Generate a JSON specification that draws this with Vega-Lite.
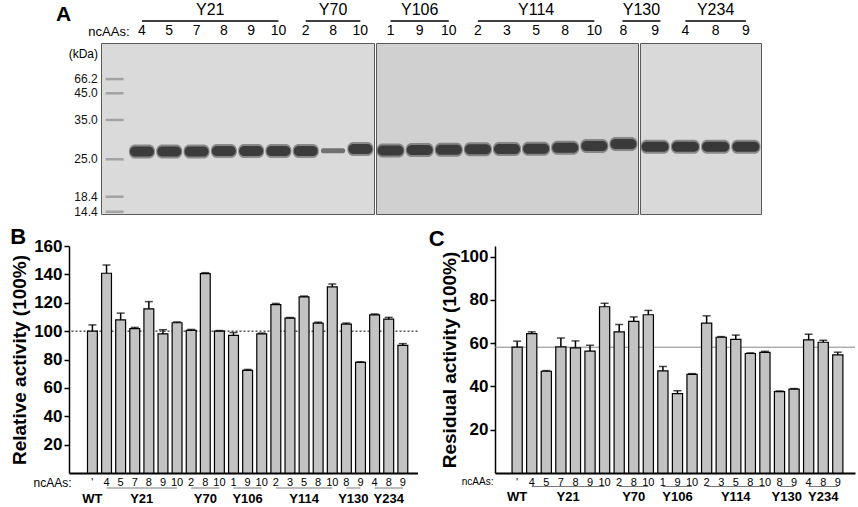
{
  "$schema": "https://vega.github.io/schema/vega-lite/v6.json",
  "padding": {"left": 5, "top": 1, "right": 1, "bottom": 0},
  "config": {
    "font": "Liberation Sans",
    "view": {"stroke": null},
    "axis": {"grid": false, "labelColor": "#000", "titleColor": "#000", "domainColor": "#000", "tickColor": "#000"}
  },
  "datasets": {
    "lanes": [
      {"id": "WT", "group": "WT", "gel": "none", "rf": null, "intensity": "none", "rel": 100, "relTop": 104.4, "res": 58.1, "resTop": 60.9},
      {"id": "Y21-4", "group": "Y21", "gel": "L", "rf": 0.634, "intensity": "high", "rel": 140.8, "relTop": 146.6, "res": 64.4, "resTop": 65.2},
      {"id": "Y21-5", "group": "Y21", "gel": "L", "rf": 0.634, "intensity": "high", "rel": 108, "relTop": 112.7, "res": 47, "resTop": 47.3},
      {"id": "Y21-7", "group": "Y21", "gel": "L", "rf": 0.634, "intensity": "high", "rel": 101.8, "relTop": 102.6, "res": 58.3, "resTop": 62.3},
      {"id": "Y21-8", "group": "Y21", "gel": "L", "rf": 0.632, "intensity": "high", "rel": 115.7, "relTop": 120.8, "res": 57.8, "resTop": 61},
      {"id": "Y21-9", "group": "Y21", "gel": "L", "rf": 0.632, "intensity": "high", "rel": 98, "relTop": 101, "res": 56.3, "resTop": 59},
      {"id": "Y21-10", "group": "Y21", "gel": "L", "rf": 0.632, "intensity": "high", "rel": 105.9, "relTop": 106.5, "res": 76.8, "resTop": 78.4},
      {"id": "Y70-2", "group": "Y70", "gel": "L", "rf": 0.632, "intensity": "high", "rel": 100.5, "relTop": 101.2, "res": 65.2, "resTop": 68.6},
      {"id": "Y70-8", "group": "Y70", "gel": "L", "rf": 0.63, "intensity": "low", "rel": 140.5, "relTop": 141.2, "res": 70, "resTop": 72.1},
      {"id": "Y70-10", "group": "Y70", "gel": "L", "rf": 0.62, "intensity": "high", "rel": 100, "relTop": 100.4, "res": 73.1, "resTop": 75.1},
      {"id": "Y106-1", "group": "Y106", "gel": "M", "rf": 0.628, "intensity": "high", "rel": 97, "relTop": 99, "res": 47.2, "resTop": 49.2},
      {"id": "Y106-9", "group": "Y106", "gel": "M", "rf": 0.626, "intensity": "high", "rel": 72.3, "relTop": 73, "res": 36.7, "resTop": 38},
      {"id": "Y106-10", "group": "Y106", "gel": "M", "rf": 0.624, "intensity": "high", "rel": 98, "relTop": 98.6, "res": 45.6, "resTop": 45.9},
      {"id": "Y114-2", "group": "Y114", "gel": "M", "rf": 0.622, "intensity": "high", "rel": 118.7, "relTop": 119.5, "res": 69.2, "resTop": 72.6},
      {"id": "Y114-3", "group": "Y114", "gel": "M", "rf": 0.62, "intensity": "high", "rel": 109.1, "relTop": 109.6, "res": 62.7, "resTop": 63},
      {"id": "Y114-5", "group": "Y114", "gel": "M", "rf": 0.618, "intensity": "high", "rel": 124.2, "relTop": 124.7, "res": 61.7, "resTop": 63.7},
      {"id": "Y114-8", "group": "Y114", "gel": "M", "rf": 0.612, "intensity": "high", "rel": 105.6, "relTop": 106.3, "res": 55.2, "resTop": 55.5},
      {"id": "Y114-10", "group": "Y114", "gel": "M", "rf": 0.603, "intensity": "high", "rel": 131.2, "relTop": 133.2, "res": 55.7, "resTop": 56.2},
      {"id": "Y130-8", "group": "Y130", "gel": "M", "rf": 0.59, "intensity": "high", "rel": 104.9, "relTop": 105.7, "res": 37.6, "resTop": 37.9},
      {"id": "Y130-9", "group": "Y130", "gel": "R", "rf": 0.606, "intensity": "high", "rel": 78, "relTop": 78.4, "res": 38.7, "resTop": 39},
      {"id": "Y234-4", "group": "Y234", "gel": "R", "rf": 0.606, "intensity": "high", "rel": 111.5, "relTop": 112.1, "res": 61.5, "resTop": 64.1},
      {"id": "Y234-8", "group": "Y234", "gel": "R", "rf": 0.606, "intensity": "high", "rel": 108.5, "relTop": 109.7, "res": 60.4, "resTop": 61.3},
      {"id": "Y234-9", "group": "Y234", "gel": "R", "rf": 0.606, "intensity": "high", "rel": 90, "relTop": 91.2, "res": 54.6, "resTop": 55.8}
    ],
    "markers": [
      {"id": "M", "kda": "66.2", "rf": 0.211},
      {"id": "M", "kda": "45.0", "rf": 0.294},
      {"id": "M", "kda": "35.0", "rf": 0.45},
      {"id": "M", "kda": "25.0", "rf": 0.68},
      {"id": "M", "kda": "18.4", "rf": 0.899},
      {"id": "M", "kda": "14.4", "rf": 0.987}
    ],
    "groups": [
      {"group": "WT", "first": "WT", "last": "WT", "anchor": "WT", "even": false, "gel": "none"},
      {"group": "Y21", "first": "Y21-4", "last": "Y21-10", "anchor": "Y21-7", "even": true, "gel": "L"},
      {"group": "Y70", "first": "Y70-2", "last": "Y70-10", "anchor": "Y70-8", "even": false, "gel": "L"},
      {"group": "Y106", "first": "Y106-1", "last": "Y106-10", "anchor": "Y106-9", "even": false, "gel": "M"},
      {"group": "Y114", "first": "Y114-2", "last": "Y114-10", "anchor": "Y114-5", "even": false, "gel": "M"},
      {"group": "Y130", "first": "Y130-8", "last": "Y130-9", "anchor": "Y130-8", "even": true, "gel": "M"},
      {"group": "Y234", "first": "Y234-4", "last": "Y234-9", "anchor": "Y234-8", "even": false, "gel": "R"}
    ]
  },
  "spacing": 7,
  "vconcat": [
    {
      "spacing": 2,
      "bounds": "flush",
      "hconcat": [
        {
          "width": 29.5,
          "height": 171,
          "data": {"values": []},
          "mark": "point"
        },
        {
          "width": 273,
          "height": 171,
          "view": {"fill": "#dadada", "stroke": "#5a5a5a", "strokeWidth": 1},
          "title": {"text": "A", "anchor": "start", "frame": "group", "dx": -45, "offset": -23, "fontSize": 21, "fontWeight": "bold", "color": "#000"},
          "resolve": {"axis": {"x": "independent", "y": "independent"}},
          "encoding": {
            "x": {"field": "id", "type": "nominal", "axis": null,
              "scale": {"domain": ["M", "Y21-4", "Y21-5", "Y21-7", "Y21-8", "Y21-9", "Y21-10", "Y70-2", "Y70-8", "Y70-10"], "paddingInner": 0, "paddingOuter": 0}}
          },
          "layer": [
            {
              "data": {"name": "markers"},
              "mark": {"type": "tick", "size": 18, "thickness": 2.5, "color": "#8c8c8c"},
              "encoding": {
                "x": {"field": "id", "type": "nominal",
                  "axis": {"orient": "top", "title": "ncAAs:", "titleX": 28, "titleY": -12, "titleAlign": "right", "titleBaseline": "middle", "titleFontSize": 13, "titleFontWeight": "normal",
                    "labelExpr": "datum.value == 'M' ? '' : slice(datum.value, indexof(datum.value, '-') + 1)",
                    "labelAngle": 0, "labelFontSize": 14, "labelPadding": 6, "ticks": false, "tickSize": 0, "domain": false, "labelOverlap": false}},
                "y": {"field": "rf", "type": "quantitative", "scale": {"domain": [0, 1], "reverse": true},
                  "axis": {"title": "(kDa)", "titleAngle": 0, "titleX": -3.5, "titleY": 10.3, "titleAlign": "right", "titleBaseline": "middle", "titleFontSize": 12, "titleFontWeight": "normal",
                    "labels": false, "ticks": false, "domain": false, "minExtent": 95}}
              }
            },
            {
              "data": {"name": "markers"},
              "mark": {"type": "text", "align": "right", "baseline": "middle", "dx": -17, "fontSize": 12, "color": "#111"},
              "encoding": {"y": {"field": "rf", "type": "quantitative", "axis": null}, "text": {"field": "kda", "type": "nominal"}}
            },
            {
              "data": {"name": "lanes"},
              "transform": [{"filter": "datum.gel == 'L' && datum.intensity == 'high'"}],
              "mark": {"type": "tick", "size": 26, "thickness": 14, "cornerRadius": 6, "color": "#555", "opacity": 0.6},
              "encoding": {"y": {"field": "rf", "type": "quantitative", "axis": null}}
            },
            {
              "data": {"name": "lanes"},
              "transform": [{"filter": "datum.gel == 'L' && datum.intensity == 'high'"}],
              "mark": {"type": "tick", "size": 24, "thickness": 10, "cornerRadius": 5, "color": "#1b1b1b"},
              "encoding": {"y": {"field": "rf", "type": "quantitative", "axis": null}}
            },
            {
              "data": {"name": "lanes"},
              "transform": [{"filter": "datum.gel == 'L' && datum.intensity == 'low'"}],
              "mark": {"type": "tick", "size": 24, "thickness": 5, "cornerRadius": 2, "color": "#444"},
              "encoding": {"y": {"field": "rf", "type": "quantitative", "axis": null}}
            },
            {
              "data": {"name": "groups"},
              "transform": [{"filter": "datum.gel == 'L'"}],
              "mark": {"type": "rule", "strokeWidth": 1.6, "color": "#000", "yOffset": -22},
              "encoding": {"x": {"field": "first", "type": "nominal", "axis": null}, "x2": {"field": "last"}, "y": {"datum": 0, "axis": null}}
            },
            {
              "data": {"name": "groups"},
              "transform": [{"filter": "datum.gel == 'L' && !datum.even"}],
              "mark": {"type": "text", "dy": -33, "baseline": "middle", "fontSize": 16, "color": "#000"},
              "encoding": {"x": {"field": "anchor", "type": "nominal", "axis": null}, "y": {"datum": 0, "axis": null}, "text": {"field": "group", "type": "nominal"}}
            },
            {
              "data": {"name": "groups"},
              "transform": [{"filter": "datum.gel == 'L' && datum.even"}],
              "mark": {"type": "text", "dy": -33, "dx": 13.65, "baseline": "middle", "fontSize": 16, "color": "#000"},
              "encoding": {"x": {"field": "anchor", "type": "nominal", "axis": null}, "y": {"datum": 0, "axis": null}, "text": {"field": "group", "type": "nominal"}}
            }
          ]
        },
        {
          "width": 262,
          "height": 171,
          "view": {"fill": "#d0d0d0", "stroke": "#5a5a5a", "strokeWidth": 1},
          "resolve": {"axis": {"x": "independent", "y": "independent"}},
          "encoding": {
            "x": {"field": "id", "type": "nominal", "axis": null,
              "scale": {"domain": ["Y106-1", "Y106-9", "Y106-10", "Y114-2", "Y114-3", "Y114-5", "Y114-8", "Y114-10", "Y130-8"], "paddingInner": 0, "paddingOuter": 0}}
          },
          "layer": [
            {
              "data": {"name": "lanes"},
              "transform": [{"filter": "datum.gel == 'M'"}],
              "mark": {"type": "tick", "size": 28, "thickness": 14, "cornerRadius": 6, "color": "#555", "opacity": 0.6},
              "encoding": {
                "x": {"field": "id", "type": "nominal",
                  "axis": {"orient": "top", "title": null, "labelExpr": "slice(datum.value, indexof(datum.value, '-') + 1)",
                    "labelAngle": 0, "labelFontSize": 14, "labelPadding": 6, "ticks": false, "tickSize": 0, "domain": false, "labelOverlap": false}},
                "y": {"field": "rf", "type": "quantitative", "scale": {"domain": [0, 1], "reverse": true}, "axis": null}
              }
            },
            {
              "data": {"name": "lanes"},
              "transform": [{"filter": "datum.gel == 'M'"}],
              "mark": {"type": "tick", "size": 26, "thickness": 10, "cornerRadius": 5, "color": "#1b1b1b"},
              "encoding": {"y": {"field": "rf", "type": "quantitative", "axis": null}}
            },
            {
              "data": {"name": "groups"},
              "transform": [{"filter": "datum.gel == 'M' && !datum.even"}],
              "mark": {"type": "rule", "strokeWidth": 1.6, "color": "#000", "yOffset": -22},
              "encoding": {"x": {"field": "first", "type": "nominal", "axis": null}, "x2": {"field": "last"}, "y": {"datum": 0, "axis": null}}
            },
            {
              "data": {"name": "groups"},
              "transform": [{"filter": "datum.gel == 'M' && datum.even"}],
              "mark": {"type": "rule", "strokeWidth": 1.6, "color": "#000", "yOffset": -22, "xOffset": -1, "x2Offset": 37},
              "encoding": {"x": {"field": "first", "type": "nominal", "axis": null}, "x2": {"field": "first"}, "y": {"datum": 0, "axis": null}}
            },
            {
              "data": {"name": "groups"},
              "transform": [{"filter": "datum.gel == 'M' && !datum.even"}],
              "mark": {"type": "text", "dy": -33, "baseline": "middle", "fontSize": 16, "color": "#000"},
              "encoding": {"x": {"field": "anchor", "type": "nominal", "axis": null}, "y": {"datum": 0, "axis": null}, "text": {"field": "group", "type": "nominal"}}
            },
            {
              "data": {"name": "groups"},
              "transform": [{"filter": "datum.gel == 'M' && datum.even"}],
              "mark": {"type": "text", "dy": -33, "dx": 18, "baseline": "middle", "fontSize": 16, "color": "#000"},
              "encoding": {"x": {"field": "anchor", "type": "nominal", "axis": null}, "y": {"datum": 0, "axis": null}, "text": {"field": "group", "type": "nominal"}}
            }
          ]
        },
        {
          "width": 121,
          "height": 171,
          "view": {"fill": "#d9d9d9", "stroke": "#5a5a5a", "strokeWidth": 1},
          "resolve": {"axis": {"x": "independent", "y": "independent"}},
          "encoding": {
            "x": {"field": "id", "type": "nominal", "axis": null,
              "scale": {"domain": ["Y130-9", "Y234-4", "Y234-8", "Y234-9"], "paddingInner": 0, "paddingOuter": 0}}
          },
          "layer": [
            {
              "data": {"name": "lanes"},
              "transform": [{"filter": "datum.gel == 'R'"}],
              "mark": {"type": "tick", "size": 29, "thickness": 14, "cornerRadius": 6, "color": "#555", "opacity": 0.6},
              "encoding": {
                "x": {"field": "id", "type": "nominal",
                  "axis": {"orient": "top", "title": null, "labelExpr": "slice(datum.value, indexof(datum.value, '-') + 1)",
                    "labelAngle": 0, "labelFontSize": 14, "labelPadding": 6, "ticks": false, "tickSize": 0, "domain": false, "labelOverlap": false}},
                "y": {"field": "rf", "type": "quantitative", "scale": {"domain": [0, 1], "reverse": true}, "axis": null}
              }
            },
            {
              "data": {"name": "lanes"},
              "transform": [{"filter": "datum.gel == 'R'"}],
              "mark": {"type": "tick", "size": 27, "thickness": 10, "cornerRadius": 5, "color": "#151515"},
              "encoding": {"y": {"field": "rf", "type": "quantitative", "axis": null}}
            },
            {
              "data": {"name": "groups"},
              "transform": [{"filter": "datum.gel == 'R'"}],
              "mark": {"type": "rule", "strokeWidth": 1.6, "color": "#000", "yOffset": -22},
              "encoding": {"x": {"field": "first", "type": "nominal", "axis": null}, "x2": {"field": "last"}, "y": {"datum": 0, "axis": null}}
            },
            {
              "data": {"name": "groups"},
              "transform": [{"filter": "datum.gel == 'R'"}],
              "mark": {"type": "text", "dy": -33, "baseline": "middle", "fontSize": 16, "color": "#000"},
              "encoding": {"x": {"field": "anchor", "type": "nominal", "axis": null}, "y": {"datum": 0, "axis": null}, "text": {"field": "group", "type": "nominal"}}
            }
          ]
        }
      ]
    },
    {
      "spacing": 10,
      "hconcat": [
        {
          "width": 348.5,
          "height": 227,
          "title": {"text": "B", "anchor": "start", "frame": "bounds", "offset": -12, "fontSize": 22, "fontWeight": "bold", "color": "#000"},
          "resolve": {"axis": {"x": "independent", "y": "independent"}},
          "encoding": {
            "x": {"field": "id", "type": "nominal", "axis": null,
              "scale": {"domain": ["WT", "Y21-4", "Y21-5", "Y21-7", "Y21-8", "Y21-9", "Y21-10", "Y70-2", "Y70-8", "Y70-10", "Y106-1", "Y106-9", "Y106-10", "Y114-2", "Y114-3", "Y114-5", "Y114-8", "Y114-10", "Y130-8", "Y130-9", "Y234-4", "Y234-8", "Y234-9"], "paddingInner": 0.3, "paddingOuter": 1.096, "align": 0.655}}
          },
          "layer": [
            {
              "data": {"name": "lanes"},
              "transform": [{"filter": "datum.id == 'WT'"}],
              "mark": {"type": "rule", "strokeDash": [2, 2], "strokeWidth": 1, "color": "#000"},
              "encoding": {"x": null, "y": {"field": "rel", "type": "quantitative", "scale": {"domain": [0, 160]}, "axis": null}}
            },
            {
              "data": {"name": "lanes"},
              "mark": {"type": "bar", "fill": "#c3c3c3", "stroke": "#000", "strokeWidth": 1.2},
              "encoding": {
                "x": {"field": "id", "type": "nominal",
                  "axis": {"title": "ncAAs:", "titleX": 2, "titleY": 9, "titleAlign": "right", "titleBaseline": "middle", "titleFontSize": 12, "titleFontWeight": "normal",
                    "labelExpr": "datum.value == 'WT' ? \"'\" : slice(datum.value, indexof(datum.value, '-') + 1)",
                    "labelAngle": 0, "labelFontSize": 11, "labelPadding": 3, "ticks": false, "tickSize": 0, "domainWidth": 2, "labelOverlap": false}},
                "y": {"field": "rel", "type": "quantitative",
                  "axis": {"values": [20, 40, 60, 80, 100, 120, 140, 160], "title": "Relative activity (100%)", "titleFontSize": 19, "titleFontWeight": "bold", "titlePadding": 4.5,
                    "labelFontSize": 17, "labelFontWeight": "bold", "labelPadding": 2, "tickSize": 5, "tickWidth": 1.5, "domainWidth": 1.5, "minExtent": 34}}
              }
            },
            {
              "data": {"name": "lanes"},
              "mark": {"type": "rule", "strokeWidth": 1.5, "color": "#000"},
              "encoding": {"y": {"field": "rel", "type": "quantitative", "axis": null}, "y2": {"field": "relTop"}}
            },
            {
              "data": {"name": "lanes"},
              "mark": {"type": "tick", "size": 8, "thickness": 1.5, "color": "#000"},
              "encoding": {"y": {"field": "relTop", "type": "quantitative", "axis": null}}
            },
            {
              "data": {"name": "groups"},
              "mark": {"type": "rule", "strokeWidth": 1, "color": "#7a7a7a", "yOffset": 15},
              "encoding": {"x": {"field": "first", "type": "nominal", "axis": null}, "x2": {"field": "last"}, "y": {"datum": 0, "axis": null}}
            },
            {
              "data": {"name": "groups"},
              "transform": [{"filter": "!datum.even"}],
              "mark": {"type": "text", "dy": 26, "baseline": "middle", "fontSize": 13, "fontWeight": "bold", "color": "#000"},
              "encoding": {"x": {"field": "anchor", "type": "nominal", "axis": null}, "y": {"datum": 0, "axis": null}, "text": {"field": "group", "type": "nominal"}}
            },
            {
              "data": {"name": "groups"},
              "transform": [{"filter": "datum.even"}],
              "mark": {"type": "text", "dy": 26, "dx": 7, "baseline": "middle", "fontSize": 13, "fontWeight": "bold", "color": "#000"},
              "encoding": {"x": {"field": "anchor", "type": "nominal", "axis": null}, "y": {"datum": 0, "axis": null}, "text": {"field": "group", "type": "nominal"}}
            }
          ]
        },
        {
          "width": 360,
          "height": 227,
          "title": {"text": "C", "anchor": "start", "frame": "bounds", "offset": -5, "dx": -12, "fontSize": 22, "fontWeight": "bold", "color": "#000"},
          "resolve": {"axis": {"x": "independent", "y": "independent"}},
          "encoding": {
            "x": {"field": "id", "type": "nominal", "axis": null,
              "scale": {"domain": ["WT", "Y21-4", "Y21-5", "Y21-7", "Y21-8", "Y21-9", "Y21-10", "Y70-2", "Y70-8", "Y70-10", "Y106-1", "Y106-9", "Y106-10", "Y114-2", "Y114-3", "Y114-5", "Y114-8", "Y114-10", "Y130-8", "Y130-9", "Y234-4", "Y234-8", "Y234-9"], "paddingInner": 0.3, "paddingOuter": 1.054, "align": 0.585}}
          },
          "layer": [
            {
              "data": {"name": "lanes"},
              "transform": [{"filter": "datum.id == 'WT'"}],
              "mark": {"type": "rule", "strokeWidth": 1, "color": "#8a8a8a"},
              "encoding": {"x": null, "y": {"field": "res", "type": "quantitative", "scale": {"domain": [0, 104.85], "nice": false}, "axis": null}}
            },
            {
              "data": {"name": "lanes"},
              "mark": {"type": "bar", "fill": "#c3c3c3", "stroke": "#000", "strokeWidth": 1.2},
              "encoding": {
                "x": {"field": "id", "type": "nominal",
                  "axis": {"title": "ncAAs:", "titleX": -2, "titleY": 8, "titleAlign": "right", "titleBaseline": "middle", "titleFontSize": 10, "titleFontWeight": "normal",
                    "labelExpr": "datum.value == 'WT' ? \"'\" : slice(datum.value, indexof(datum.value, '-') + 1)",
                    "labelAngle": 0, "labelFontSize": 11, "labelPadding": 3, "ticks": false, "tickSize": 0, "domainWidth": 2, "labelOverlap": false}},
                "y": {"field": "res", "type": "quantitative",
                  "axis": {"values": [20, 40, 60, 80, 100], "title": "Residual activity (100%)", "titleFontSize": 19, "titleFontWeight": "bold", "titlePadding": 0,
                    "labelFontSize": 17, "labelFontWeight": "bold", "labelPadding": 2, "tickSize": 5, "tickWidth": 1.5, "domainWidth": 1.5, "minExtent": 34}}
              }
            },
            {
              "data": {"name": "lanes"},
              "mark": {"type": "rule", "strokeWidth": 1.5, "color": "#000"},
              "encoding": {"y": {"field": "res", "type": "quantitative", "axis": null}, "y2": {"field": "resTop"}}
            },
            {
              "data": {"name": "lanes"},
              "mark": {"type": "tick", "size": 8, "thickness": 1.5, "color": "#000"},
              "encoding": {"y": {"field": "resTop", "type": "quantitative", "axis": null}}
            },
            {
              "data": {"name": "groups"},
              "mark": {"type": "rule", "strokeWidth": 1, "color": "#7a7a7a", "yOffset": 13.5},
              "encoding": {"x": {"field": "first", "type": "nominal", "axis": null}, "x2": {"field": "last"}, "y": {"datum": 0, "axis": null}}
            },
            {
              "data": {"name": "groups"},
              "transform": [{"filter": "!datum.even"}],
              "mark": {"type": "text", "dy": 23.5, "baseline": "middle", "fontSize": 13, "fontWeight": "bold", "color": "#000"},
              "encoding": {"x": {"field": "anchor", "type": "nominal", "axis": null}, "y": {"datum": 0, "axis": null}, "text": {"field": "group", "type": "nominal"}}
            },
            {
              "data": {"name": "groups"},
              "transform": [{"filter": "datum.even"}],
              "mark": {"type": "text", "dy": 23.5, "dx": 7.25, "baseline": "middle", "fontSize": 13, "fontWeight": "bold", "color": "#000"},
              "encoding": {"x": {"field": "anchor", "type": "nominal", "axis": null}, "y": {"datum": 0, "axis": null}, "text": {"field": "group", "type": "nominal"}}
            }
          ]
        }
      ]
    }
  ]
}
